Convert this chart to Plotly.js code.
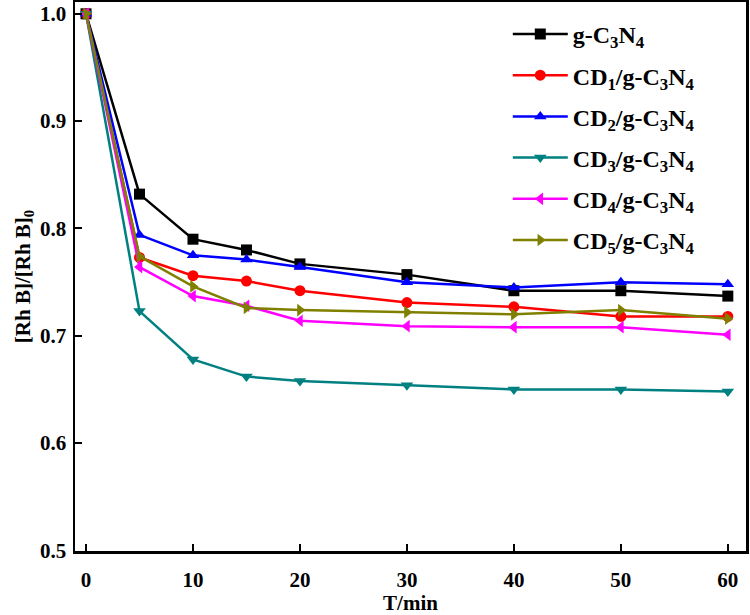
<!DOCTYPE html>
<html><head><meta charset="utf-8">
<script src="https://cdn.plot.ly/plotly-3.0.1.min.js"></script>
<style>body{margin:0;background:#fff}#chart{width:750px;height:615px}</style>
</head><body><div id="chart"></div>
<script>
const time = [0, 5, 10, 15, 20, 30, 40, 50, 60];
const names = ["g-C<sub>3</sub>N<sub>4</sub>", "CD<sub>1</sub>/g-C<sub>3</sub>N<sub>4</sub>", "CD<sub>2</sub>/g-C<sub>3</sub>N<sub>4</sub>", "CD<sub>3</sub>/g-C<sub>3</sub>N<sub>4</sub>", "CD<sub>4</sub>/g-C<sub>3</sub>N<sub>4</sub>", "CD<sub>5</sub>/g-C<sub>3</sub>N<sub>4</sub>"];
const gC3N4 = [1.0, 0.832, 0.790, 0.780, 0.767, 0.757, 0.742, 0.742, 0.737];
const CD1 = [1.0, 0.773, 0.756, 0.751, 0.742, 0.731, 0.727, 0.718, 0.718];
const CD2 = [1.0, 0.794, 0.775, 0.771, 0.764, 0.750, 0.745, 0.750, 0.748];
const CD3 = [1.0, 0.723, 0.678, 0.662, 0.658, 0.654, 0.650, 0.650, 0.648];
const CD4 = [1.0, 0.764, 0.737, 0.728, 0.714, 0.709, 0.708, 0.708, 0.701];
const CD5 = [1.0, 0.774, 0.746, 0.726, 0.724, 0.722, 0.720, 0.724, 0.716];
const series = [gC3N4, CD1, CD2, CD3, CD4, CD5];
const colors = ["#000000", "#ff0000", "#0000ff", "#008080", "#ff00ff", "#808000"];
const symbols = ["square", "circle", "triangle-up", "triangle-down", "triangle-left", "triangle-right"];

const font = {family: "Liberation Serif, Times New Roman, serif", color: "#000", weight: "bold"};
const traces = series.map((s, i) => ({
  x: time, y: s, name: names[i], type: "scatter", mode: "lines+markers",
  legendgroup: "g" + i,
  line: {color: colors[i], width: 2.5},
  marker: {color: colors[i], symbol: symbols[i], size: 11}
}));
const layout = {
  width: 750, height: 615,
  margin: {l: 75, r: 4, t: 2, b: 64},
  paper_bgcolor: "#fff", plot_bgcolor: "#fff",
  showlegend: true,
  legend: {x: 0.645, y: 0.982, xanchor: "left", yanchor: "top", bgcolor: "rgba(0,0,0,0)",
    font: Object.assign({}, font, {size: 24}), tracegroupgap: 7, itemwidth: 55},
  xaxis: {range: [-1.03, 61.7], tickvals: [0, 10, 20, 30, 40, 50, 60],
    ticks: "inside", ticklen: 7, tickwidth: 2, tickcolor: "#000",
    showline: true, linecolor: "#000", linewidth: 2.5, mirror: true,
    showgrid: false, zeroline: false, ticklabelstandoff: 8,
    tickfont: Object.assign({}, font, {size: 21}),
    title: {text: "T/min", font: Object.assign({}, font, {size: 21}), standoff: 3}},
  yaxis: {range: [0.4995, 1.011], tickvals: [0.5, 0.6, 0.7, 0.8, 0.9, 1.0],
    ticktext: ["0.5", "0.6", "0.7", "0.8", "0.9", "1.0"],
    ticks: "inside", ticklen: 7, tickwidth: 2, tickcolor: "#000",
    showline: true, linecolor: "#000", linewidth: 2.5, mirror: true,
    showgrid: false, zeroline: false, ticklabelstandoff: 2,
    tickfont: Object.assign({}, font, {size: 21}),
    title: {text: "[Rh B]/[Rh B]<sub>0</sub>", font: Object.assign({}, font, {size: 21}), standoff: 4}}
};
Plotly.newPlot("chart", traces, layout, {displayModeBar: false, staticPlot: true});
</script></body></html>
